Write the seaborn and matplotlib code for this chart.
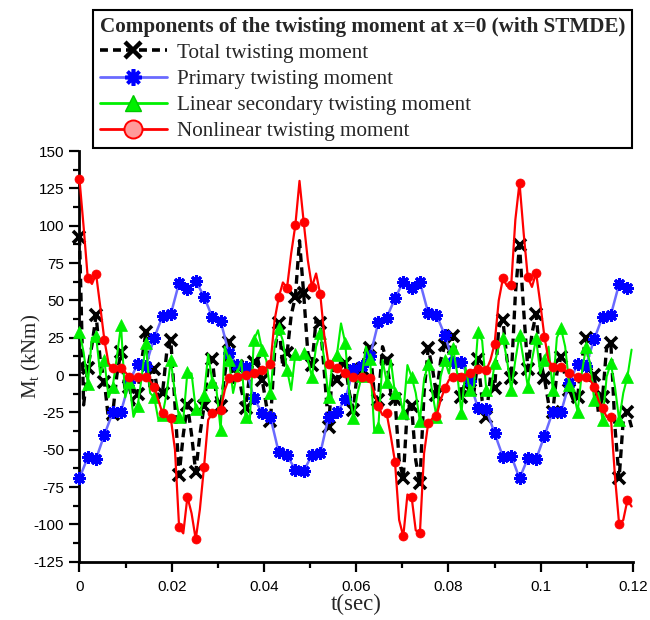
import numpy as np
import matplotlib
matplotlib.use("Agg")
import matplotlib.pyplot as plt
from matplotlib.lines import Line2D
from matplotlib.ticker import MultipleLocator, FuncFormatter
import seaborn as sns

sns.set_style("ticks")
plt.rcParams["font.family"] = ["Liberation Sans", "DejaVu Sans"]
plt.rcParams["axes.unicode_minus"] = False
plt.rcParams["mathtext.fontset"] = "custom"
plt.rcParams["mathtext.rm"] = "Liberation Serif"
plt.rcParams["mathtext.it"] = "Liberation Serif:italic"

# time samples (s): lines use every sample, markers every second one
dt = 0.0009
t_fine = np.round(np.arange(134) * dt, 4)
t_mark = t_fine[::2]

# total twisting moment (kNm)
total = [
    92.6, -20, 5, 20, 40, 10, -4.5, -30, -26, 0,
    15.6, -10, -8, -20, -13, 10, 28.5, -10, 3.8, -15,
    -12, 15, 23.4, -20, -67, -40, -20, -40, -65, -40,
    -21, 5, 10.5, -15, -21, 0, 22, -5, 6, -10,
    -22, 0, 9, 10, -3, -20, -31, 15, 34.6, 5,
    14.5, 40, 52.5, 90, 54.7, 15, 6.7, 37, 34.6, 1,
    -34.6, 5, -3.3, 10, 7.8, -12, -23.4, 5, 4, 17,
    18, -12, -17, 19, 10, -12, -16, -57, -69.2, -21,
    -21, -57, -72.5, -12, 17.9, 5, -13.4, 10, 20, 15,
    26, 10, -15, -3, -10, -12, 10.5, -17, -28, -1,
    -9, 32, 36.8, 10, -2.2, 54, 87, 43.5, 3.8, 28,
    40.8, 10, -2.2, -19, -25, 1, 12.3, -1, -10, -17,
    -14.5, 10, 24.6, 5, 0, -25, -15, 19, 21.7, -35,
    -69.2, -30, -24.5, -35,
]

# primary twisting moment (kNm), one value per marker
primary = [
    -69, -55, -56, -40, -25, -24.5, -4.5, 7.4, 6.3, 25,
    39.3, 40.8, 61.8, 57.4, 63.2, 52.5, 38.6, 36.2, 14.5, 6.7,
    5.6, -15.6, -25.2, -28.3, -51.8, -53.6, -63.6, -64.3, -53.6, -52.5,
    -28, -25, -16.3, 3.8, 6, 12.7, 35.3, 38.4, 51.3, 62.5,
    58, 62.5, 41.7, 40.2, 26.8, 8.9, 8.9, -3.8, -22.3, -23,
    -39, -54.7, -54, -69.2, -55.8, -56.3, -40.8, -24.6, -25, -5,
    7.4, 6.3, 24.1, 39, 40.2, 61, 58,
]

# linear secondary twisting moment (kNm)
linear_secondary = [
    29, 15, -6, 25, 26, 0, 10, -15, -7.8, 12,
    33.5, -15, -4.5, -28, -21, -1, 21.7, -12, -15, -30,
    -26.8, -12, 10, -12, -28.3, -30, 2.2, 1, -23, -26,
    -13.4, 14, -4.5, -10, -36.8, 19, 10, -12, 1, 10,
    -28, -32, 23.4, 30, 16.7, 10, -12.3, 19, 31.2, 23,
    3.3, -10, 14, 10, 14.5, 10, -1.1, 19, 28.1, 10,
    -15, 10, 13.4, 34.6, 21.7, -12, -29, -12, -0.7, 19,
    11, -37, -34.6, 10, -4.5, 10, -12.3, -12, -25.7, 6.7,
    -1.1, -12, -31, -3, 7.4, -12, -28, -1, 10, 1,
    17.9, 1, -25.7, 5, -10, -8, 29, 23, -10, -12,
    7.8, 19, 24.6, 10, -10, 10, 26.8, 10, -7.8, 10,
    24.6, 1, 10, 19, -10, 25, 31.2, 19, -6.7, -12,
    -24.6, 1, 18.5, 8, -16.7, -12, -30.1, -1, 7.8, -8,
    -30.1, -12, -1.1, 17,
]

# nonlinear twisting moment (kNm)
nonlinear = [
    131, 99, 64.7, 61, 67.6, 45.8, 23.4, 7.8, 4.5, 3.3,
    4.5, 2, -1, -1.5, -1.1, -1, -1.1, -4, -7.8, -16.7,
    -25.7, -28, -29, -50, -102, -106, -81.5, -92.6, -110, -90,
    -61.4, -30, -25.7, -25.7, -23.4, -10, -2.2, -1.1, -1.1, 0,
    0, 0.5, 1.1, 3, 3.3, 5, 7.4, 36.8, 52, 62,
    58.5, 81.5, 100.4, 130, 102.7, 77, 59, 68, 54, 25.7,
    7.4, 5.6, 5, 3.3, 1.1, -0.7, -1.1, -1.5, -1.6, -1,
    -2.2, -12, -21, -26.8, -25.7, -41, -58, -97, -108, -80,
    -81.5, -104, -106, -52.5, -32.4, -29, -27.5, -16.7, -9, -3.3,
    -1.1, -1, -1.1, 0, 1.6, 3.3, 3.8, 3.5, 3.3, 10,
    21, 50, 64.7, 59.6, 60.3, 104, 128.8, 95, 65.4, 59,
    68.5, 48, 25.7, 10, 5.6, 5.6, 5.1, 2.9, 1.1, 0,
    -1.1, -1.1, -1.6, -3.3, -7.8, -16.7, -22.3, -28, -28, -68,
    -100, -97, -83.7, -88,
]

labels = [
    "Total twisting moment",
    "Primary twisting moment",
    "Linear secondary twisting moment",
    "Nonlinear twisting moment",
]

BLUE_LINE = "#6a6aff"
GREEN = "#00f000"

fig = plt.figure(figsize=(6.5, 6.2), dpi=100)
ax = fig.add_axes([0.1223, 0.094, 0.8515, 0.6624])

sns.lineplot(x=t_fine, y=total, ax=ax, color="black", linewidth=2.4,
             linestyle=(0, (2.6, 1.6)), marker="x", markevery=2,
             markersize=9, markeredgewidth=2.6, markeredgecolor="black",
             clip_on=False, zorder=3)
sns.lineplot(x=t_mark, y=primary, ax=ax, color=BLUE_LINE, linewidth=1.8,
             marker=(8, 2, 0), markersize=9, markeredgewidth=2.2,
             markeredgecolor="#0000ff", markerfacecolor="#0000ff",
             clip_on=False, zorder=4)
sns.lineplot(x=t_fine, y=linear_secondary, ax=ax, color=GREEN,
             linewidth=1.5, marker="^", markevery=2, markersize=8,
             markeredgewidth=0.5, markeredgecolor=GREEN,
             markerfacecolor=GREEN, clip_on=False, zorder=5)
sns.lineplot(x=t_fine, y=nonlinear, ax=ax, color="#ff0000", linewidth=1.6,
             marker="o", markevery=2, markersize=6.5, markeredgewidth=0.5,
             markeredgecolor="#ff0000", markerfacecolor="#ff0000",
             clip_on=False, zorder=6)

ax.set_xlim(0, 0.12)
ax.set_ylim(-125, 150)
ax.xaxis.set_major_locator(MultipleLocator(0.02))
ax.xaxis.set_minor_locator(MultipleLocator(0.01))
ax.yaxis.set_major_locator(MultipleLocator(25))
ax.yaxis.set_minor_locator(MultipleLocator(12.5))
ax.xaxis.set_major_formatter(FuncFormatter(lambda v, p: f"{round(v, 3):g}"))
ax.yaxis.set_major_formatter(FuncFormatter(lambda v, p: f"{v:.0f}"))

for side in ("top", "right"):
    ax.spines[side].set_visible(False)
for side in ("left", "bottom"):
    ax.spines[side].set_linewidth(2.0)
    ax.spines[side].set_color("black")

ax.tick_params(which="major", direction="out", length=7, width=1.6,
               labelsize=11, colors="black")
ax.tick_params(axis="x", which="major", pad=6)
ax.tick_params(axis="y", which="major", pad=4)
ax.tick_params(which="minor", direction="out", length=4.5, width=1.6,
               colors="black")

ax.set_xlabel("t(sec)", fontsize=16.5, family="Liberation Serif", labelpad=0)
ax.set_ylabel("M$_\\mathrm{t}$ (kNm)", fontsize=15, family="Liberation Serif",
              labelpad=-7)

handles = [
    Line2D([], [], color="black", linewidth=2.6, linestyle=(0, (2.2, 1.4)),
           marker="x", markersize=12, markeredgewidth=3.2,
           markeredgecolor="black"),
    Line2D([], [], color=BLUE_LINE, linewidth=2.0, marker=(8, 2, 0),
           markersize=12, markeredgewidth=2.6, markeredgecolor="#0000ff"),
    Line2D([], [], color=GREEN, linewidth=2.0, marker="^",
           markersize=12, markeredgewidth=1.0, markeredgecolor="#00c800",
           markerfacecolor=GREEN),
    Line2D([], [], color="#ff0000", linewidth=2.0, marker="o",
           markersize=13, markeredgewidth=1.4, markeredgecolor="#ff0000",
           markerfacecolor="#ff9a9a"),
]
leg = ax.legend(
    handles, labels,
    title="Components of the twisting moment at x=0 (with STMDE)",
    loc="upper left", bbox_to_anchor=(0.143, 0.984),
    bbox_transform=fig.transFigure,
    prop={"family": "Liberation Serif", "size": 15.2},
    title_fontproperties={"family": "Liberation Serif", "size": 15.2,
                          "weight": "bold"},
    frameon=True, fancybox=False, framealpha=1, edgecolor="black",
    borderpad=0.32, labelspacing=0.3, handlelength=3.2,
    handletextpad=0.45, borderaxespad=0,
)
leg.get_frame().set_linewidth(1.5)
leg._legend_box.align = "left"

fig.savefig("out.png", dpi=100)
